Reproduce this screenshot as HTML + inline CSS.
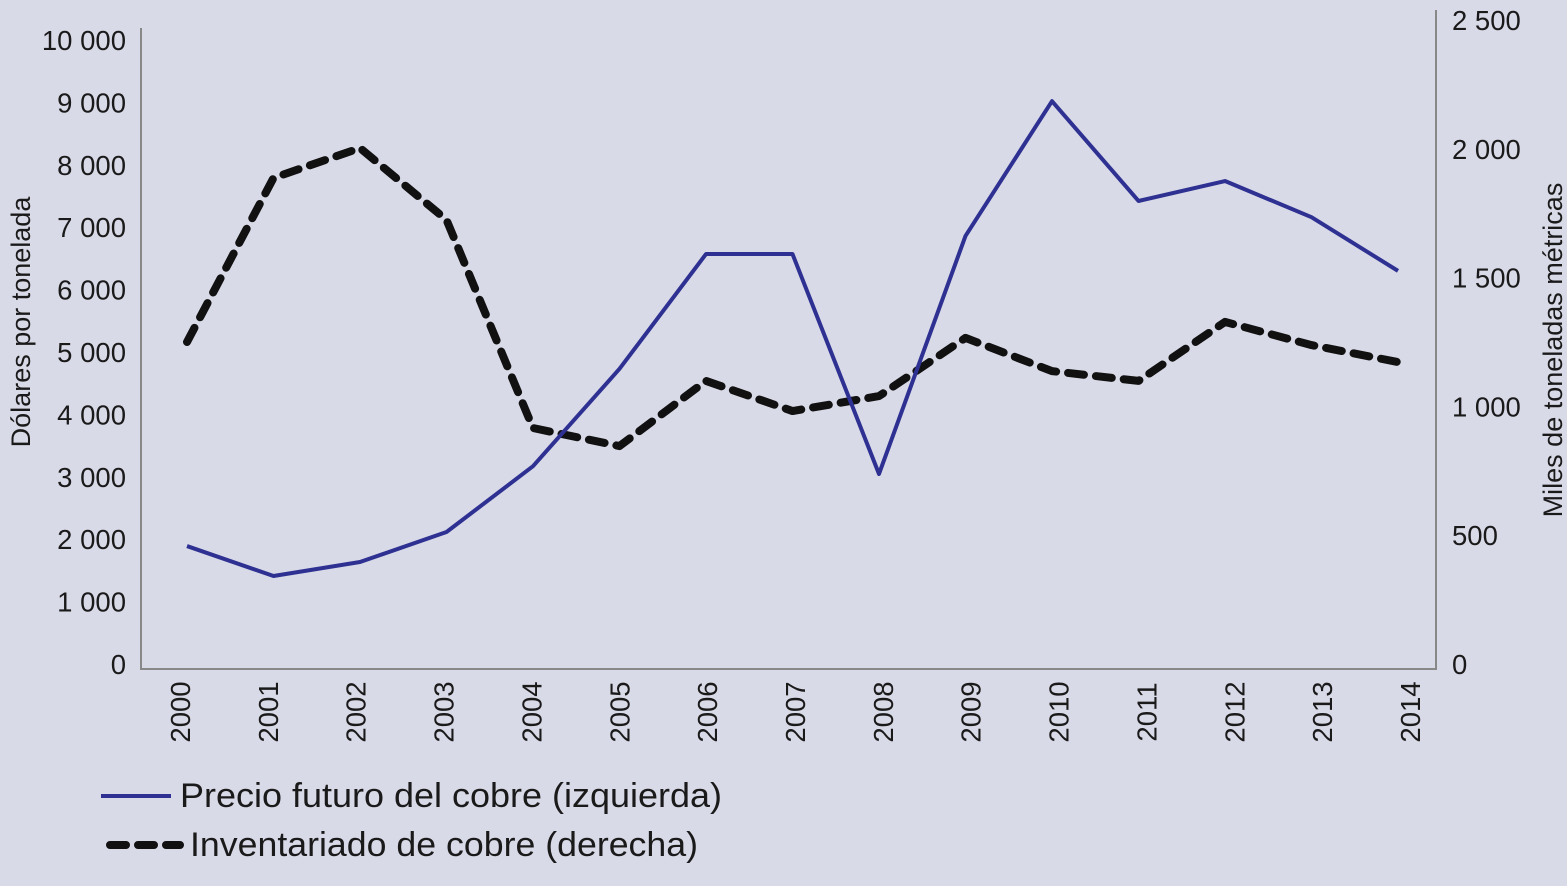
<!DOCTYPE html>
<html><head><meta charset="utf-8"><style>
body{margin:0;background:#d9dae8;}
svg{display:block;font-family:"Liberation Sans",Arial,sans-serif;}
</style></head><body>
<svg id="chart" width="1567" height="886">
<rect width="1567" height="886" fill="#d9dae8"/>
<g id="g"></g>
</svg>
<script>
const years=["2000","2001","2002","2003","2004","2005","2006","2007","2008","2009","2010","2011","2012","2013","2014"];
const priceValues=[1890,1410,1635,2115,3170,4730,6570,6570,3045,6860,9020,7420,7740,7160,6300];
const inventoryValues=[1250,1887,2003,1724,916,846,1099,982,1040,1266,1137,1099,1328,1238,1172];
const leftTicks=[0,1000,2000,3000,4000,5000,6000,7000,8000,9000,10000];
const rightTicks=[0,500,1000,1500,2000,2500];
const NS="http://www.w3.org/2000/svg",g=document.getElementById('g');
const x=i=>187+i*(1398-187)/14;
const xl=i=>180+i*(1410-180)/14;
const yL=v=>664-v*0.0624;
const yR=v=>664-v*0.2576;
const fmt=v=>v>=1000?Math.floor(v/1000)+" "+String(v%1000).padStart(3,"0"):String(v);
function el(t,a,txt){const e=document.createElementNS(NS,t);for(const k in a)e.setAttribute(k,a[k]);if(txt!=null)e.textContent=txt;g.appendChild(e);return e;}
let e;
e=el('line',{x1:141,y1:28,x2:141,y2:670,stroke:'#888',"stroke-width":2});

e=el('line',{x1:1436,y1:10,x2:1436,y2:670,stroke:'#888',"stroke-width":2});

e=el('line',{x1:141,y1:669,x2:1436,y2:669,stroke:'#888',"stroke-width":2});

leftTicks.forEach(v=>{e=el('text',{x:126,y:yL(v)+10,"text-anchor":"end","font-size":27.5,fill:'#1a1a1a'},fmt(v));
});
rightTicks.forEach(v=>{e=el('text',{x:1452,y:yR(v)+10,"font-size":27.5,fill:'#1a1a1a'},fmt(v));
});
years.forEach((yr,i)=>{const xx=xl(i)+10;e=el('text',{x:xx,y:712,transform:`rotate(-90 ${xx} 712)`,"text-anchor":"middle","font-size":27.5,fill:'#1a1a1a'},yr);
});
e=el('text',{x:30,y:322,transform:'rotate(-90 30 322)',"text-anchor":"middle","font-size":27,fill:'#1a1a1a'},'Dólares por tonelada');

e=el('text',{x:1562,y:350,transform:'rotate(-90 1562 350)',"text-anchor":"middle","font-size":27,fill:'#1a1a1a'},'Miles de toneladas métricas');

e=el('polyline',{points:inventoryValues.map((v,i)=>x(i)+','+yR(v)).join(' '),fill:'none',stroke:'#111',"stroke-width":8,"stroke-dasharray":"16 12","stroke-linecap":"round","stroke-linejoin":"round"});

e=el('polyline',{points:priceValues.map((v,i)=>x(i)+','+yL(v)).join(' '),fill:'none',stroke:'#2e3192',"stroke-width":4,"stroke-linejoin":"round"});

e=el('line',{x1:101,y1:796,x2:171,y2:796,stroke:'#2e3192',"stroke-width":4});

e=el('text',{x:180,y:807,"font-size":34,fill:'#1a1a1a',textLength:542,lengthAdjust:'spacingAndGlyphs'},'Precio futuro del cobre (izquierda)');

e=el('line',{x1:110,y1:845,x2:180,y2:845,stroke:'#111',"stroke-width":8,"stroke-dasharray":"16 12","stroke-linecap":"round"});

e=el('text',{x:190,y:856,"font-size":34,fill:'#1a1a1a',textLength:508,lengthAdjust:'spacingAndGlyphs'},'Inventariado de cobre (derecha)');

</script>
</body></html>
